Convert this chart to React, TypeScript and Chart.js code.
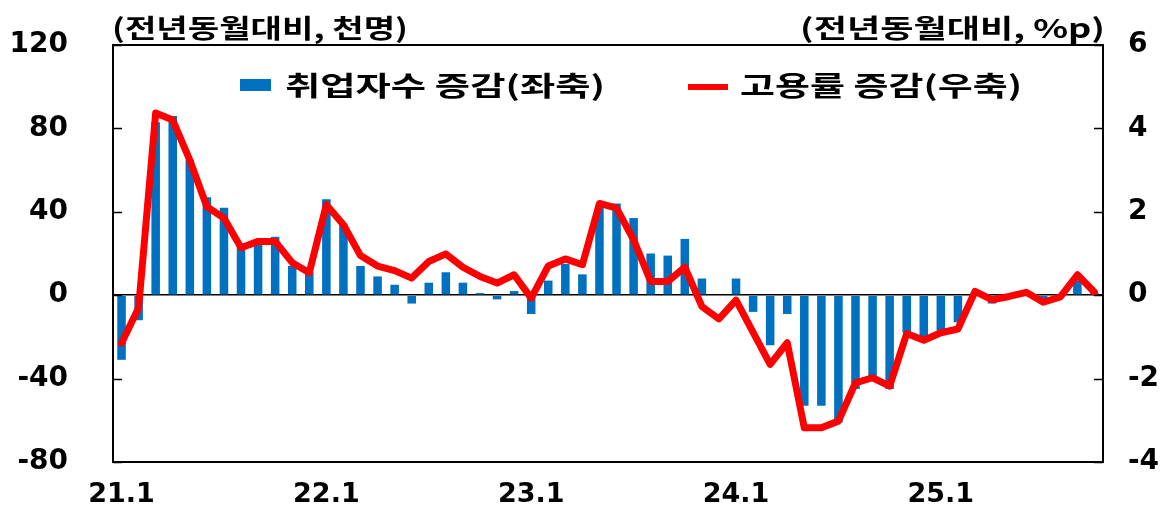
import React, { useEffect, useRef } from "react";
import { Chart, registerables } from "chart.js";

Chart.register(...registerables);

// ---- data ----
const months = [
  "21.1", "21.2", "21.3", "21.4", "21.5", "21.6", "21.7", "21.8", "21.9", "21.10", "21.11", "21.12",
  "22.1", "22.2", "22.3", "22.4", "22.5", "22.6", "22.7", "22.8", "22.9", "22.10", "22.11", "22.12",
  "23.1", "23.2", "23.3", "23.4", "23.5", "23.6", "23.7", "23.8", "23.9", "23.10", "23.11", "23.12",
  "24.1", "24.2", "24.3", "24.4", "24.5", "24.6", "24.7", "24.8", "24.9", "24.10", "24.11", "24.12",
  "25.1", "25.2", "25.3", "25.4", "25.5", "25.6", "25.7", "25.8", "25.9", "25.10",
];

// 취업자수 증감 (천명, 좌축)
const employedChange = [
  -31, -12, 83, 86, 65, 47, 42, 25, 26, 28, 14, 11,
  46, 34, 14, 9, 5, -4, 6, 11, 6, 1, -2, 2,
  -9, 7, 15, 10, 43, 44, 37, 20, 19, 27, 8, 0,
  8, -8, -24, -9, -53, -53, -61, -45, -40, -45, -18, -22,
  -17, -13, 0, -4, -1, 0.5, -3, -1, 7, 1,
];

// 고용률 증감 (%p, 우축)
const rateChange = [
  -1.15, -0.3, 4.37, 4.2, 3.24, 2.12, 1.85, 1.14, 1.29, 1.29, 0.78, 0.54,
  2.17, 1.69, 0.95, 0.7, 0.59, 0.41, 0.81, 0.99, 0.67, 0.45, 0.29, 0.49,
  -0.07, 0.7, 0.87, 0.73, 2.2, 2.09, 1.33, 0.33, 0.33, 0.67, -0.27, -0.57,
  -0.12, -0.89, -1.66, -1.14, -3.18, -3.18, -3.02, -2.1, -1.98, -2.18, -0.92, -1.08,
  -0.9, -0.81, 0.09, -0.11, -0.03, 0.07, -0.17, -0.04, 0.49, 0.07,
];

const xTickLabels = ["21.1", "22.1", "23.1", "24.1", "25.1"];
const leftTicks = [120, 80, 40, 0, -40, -80];
const rightTicks = [6, 4, 2, 0, -2, -4];

const leftUnit = "(전년동월대비, 천명)";
const rightUnit = "(전년동월대비, %p)";
const barLabel = "취업자수 증감(좌축)";
const lineLabel = "고용률 증감(우축)";

const BLUE = "#0070C0";
const RED = "#FF0000";
const KFONT = '"Noto Sans CJK KR", "Noto Sans", sans-serif';
const NFONT = '"DejaVu Sans", "Liberation Sans", sans-serif';

function fitText(
  ctx: CanvasRenderingContext2D,
  text: string,
  x: number,
  y: number,
  width: number,
  align: "left" | "right"
) {
  const natural = ctx.measureText(text).width;
  const sx = width / natural;
  ctx.save();
  const startX = align === "left" ? x : x - width;
  ctx.translate(startX, y);
  ctx.scale(sx, 1);
  ctx.textAlign = "left";
  ctx.textBaseline = "middle";
  ctx.fillText(text, 0, 0);
  ctx.restore();
}

const decorPlugin = {
  id: "decor",
  afterDraw(chart: any) {
    const { ctx, chartArea: a, scales } = chart;
    ctx.save();
    ctx.strokeStyle = "#000";
    ctx.lineWidth = 2;
    ctx.strokeRect(a.left, a.top, a.right - a.left, a.bottom - a.top);
    ctx.lineWidth = 1.5;
    ctx.beginPath();
    for (const v of leftTicks) {
      const y = Math.round(scales.y.getPixelForValue(v)) + 0.5;
      ctx.moveTo(a.left, y);
      ctx.lineTo(a.left + 9, y);
    }
    for (const v of rightTicks) {
      const y = Math.round(scales.y1.getPixelForValue(v)) + 0.5;
      ctx.moveTo(a.right - 9, y);
      ctx.lineTo(a.right, y);
    }
    ctx.stroke();

    ctx.fillStyle = "#000";
    ctx.font = `bold 26px ${KFONT}`;
    fitText(ctx, leftUnit, 112, 28, 296, "left");
    fitText(ctx, rightUnit, 1105, 28, 305, "right");

    // legend
    ctx.fillStyle = BLUE;
    ctx.fillRect(240, 79, 31, 12);
    ctx.fillStyle = "#000";
    ctx.font = `bold 27px ${KFONT}`;
    fitText(ctx, barLabel, 285, 86, 320, "left");
    ctx.strokeStyle = RED;
    ctx.lineWidth = 6;
    ctx.beginPath();
    ctx.moveTo(688, 87);
    ctx.lineTo(728, 87);
    ctx.stroke();
    fitText(ctx, lineLabel, 740, 86, 282, "left");
    ctx.restore();
  },
};

export default function App() {
  const ref = useRef<HTMLCanvasElement>(null);

  useEffect(() => {
    if (!ref.current) return;
    const chart = new Chart(ref.current, {
      type: "bar",
      data: {
        labels: months,
        datasets: [
          {
            type: "line",
            label: lineLabel,
            data: rateChange,
            yAxisID: "y1",
            borderColor: RED,
            backgroundColor: RED,
            borderWidth: 7,
            pointRadius: 0,
            tension: 0,
            borderJoinStyle: "round",
            borderCapStyle: "round",
            order: 0,
          } as any,
          {
            type: "bar",
            label: barLabel,
            data: employedChange,
            yAxisID: "y",
            backgroundColor: BLUE,
            borderWidth: 0,
            categoryPercentage: 1,
            barPercentage: 0.5,
            order: 1,
          },
        ],
      },
      options: {
        responsive: false,
        animation: false,
        layout: { padding: { top: 45, left: 0, right: 0, bottom: 0 } },
        plugins: {
          legend: { display: false },
          title: { display: false },
          tooltip: { enabled: false },
        },
        scales: {
          x: {
            offset: true,
            grid: { display: false, drawTicks: false },
            border: { display: false },
            ticks: {
              autoSkip: false,
              maxRotation: 0,
              padding: 17,
              color: "#000",
              font: { family: NFONT, size: 27, weight: "bold" },
              callback: function (this: any, _v: any, i: number) {
                const l = months[i];
                return xTickLabels.includes(l) ? l : "";
              },
            },
            afterFit(s: any) {
              s.height = 46;
            },
          },
          y: {
            position: "left",
            min: -80,
            max: 120,
            afterBuildTicks(s: any) {
              s.ticks = leftTicks.map((v) => ({ value: v }));
            },
            grid: {
              drawTicks: false,
              lineWidth: 1.5,
              color: (c: any) => (c.tick && c.tick.value === 0 ? "#000" : "rgba(0,0,0,0)"),
            },
            border: { display: false },
            ticks: {
              padding: 45,
              color: "#000",
              font: { family: NFONT, size: 28, weight: "bold" },
            },
            afterFit(s: any) {
              s.width = 113;
              s.paddingTop = 0;
              s.paddingBottom = 0;
            },
          },
          y1: {
            position: "right",
            min: -4,
            max: 6,
            afterBuildTicks(s: any) {
              s.ticks = rightTicks.map((v) => ({ value: v }));
            },
            grid: { display: false, drawTicks: false },
            border: { display: false },
            ticks: {
              padding: 25,
              color: "#000",
              font: { family: NFONT, size: 28, weight: "bold" },
            },
            afterFit(s: any) {
              s.width = 73;
              s.paddingTop = 0;
              s.paddingBottom = 0;
            },
          },
        },
      } as any,
      plugins: [decorPlugin],
    });
    return () => chart.destroy();
  }, []);

  return (
    <div style={{ position: "absolute", left: 0, top: 0, width: 1176, height: 508, background: "#fff" }}>
      <canvas ref={ref} width={1176} height={508} />
    </div>
  );
}
